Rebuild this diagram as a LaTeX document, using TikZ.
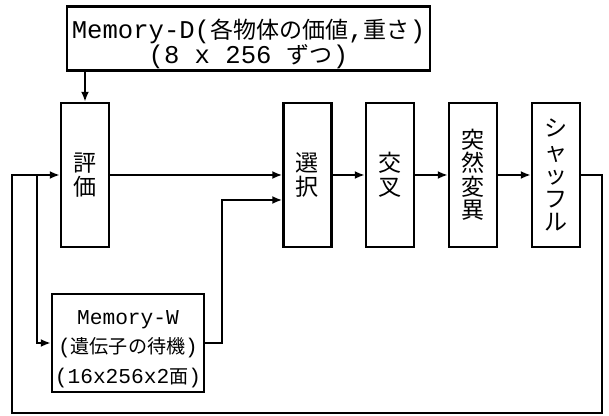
\documentclass[tikz,border=0pt]{standalone}
\usepackage{fontspec}
\setmonofont{Liberation Mono}
\newfontfamily\jpfont[Scale=0.9]{Noto Sans CJK JP}
\newcommand\jp[1]{{\jpfont #1}}
\usetikzlibrary{arrows.meta}

\begin{document}
\begin{tikzpicture}[x=0.5pt, y=-0.5pt, line width=1.2pt,
  box/.style={draw, line width=1.2pt, inner sep=1pt},
  stage/.style={box, minimum width=24pt, minimum height=72pt, align=center, font=\jpfont\fontsize{12.8}{11.75}\selectfont},
  flow/.style={-{Latex[length=5pt,width=4pt]}}]
\useasboundingbox (0,0) rectangle (609,416);

\node[box, minimum width=181.5pt, minimum height=29.5pt, align=center, font=\ttfamily\fontsize{12.8}{12.5}\selectfont] (memd) at (248.5,38.5) {\rule{0pt}{15pt}Memory-D(\jp{各物体の価値},\jp{重さ})\\(8 x 256 \jp{ずつ})};
\node[stage] (eval) at (85,175) {評\\価};
\node[stage] (sel) at (307.5,175) {選\\択};
\node[stage] (cross) at (390,175) {交\\叉};
\node[stage] (mut) at (473,175) {突\\然\\変\\異};
\node[stage] (shuf) at (556,175) {シ\\ャ\\ッ\\フ\\ル};
\node[box, minimum width=76pt, minimum height=49pt, align=center, font=\ttfamily\fontsize{10.6}{14.8}\selectfont] (memw) at (128,343) {\rule{0pt}{13pt}Memory-W\\(\jp{遺伝子の待機})\\(16x256x2\jp{面})};

\coordinate (fbr) at (602,413);
\coordinate (fbl) at (12,413);
\coordinate (br) at (37,175);
\coordinate (mj) at (222,200);

\draw[flow] (memd.south -| eval.north) -- (eval.north);
\draw[flow] (eval.east) -- (sel.west);
\draw[flow] (sel.east) -- (cross.west);
\draw[flow] (cross.east) -- (mut.west);
\draw[flow] (mut.east) -- (shuf.west);
\draw[flow] (shuf.east) -| (fbr) -- (fbl) |- (eval.west);
\draw[flow] (br) |- (memw.west);
\draw[flow] (memw.east) -| (mj) -- (sel.west |- mj);
\end{tikzpicture}
\end{document}
